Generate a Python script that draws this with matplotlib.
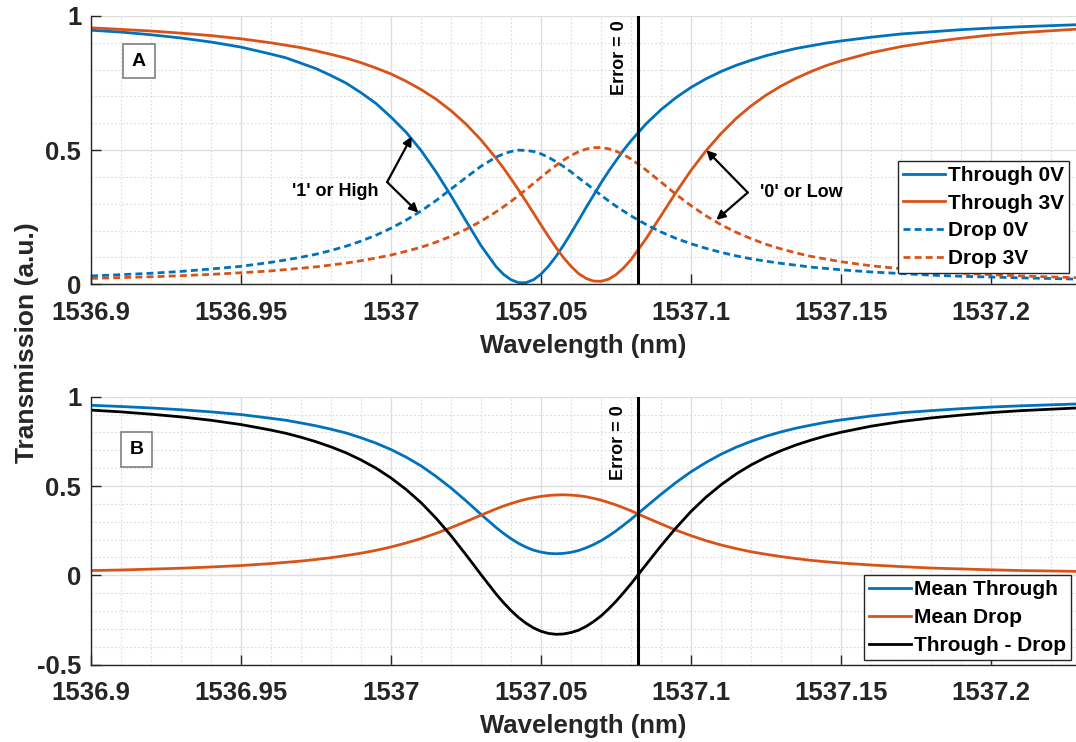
import matplotlib
matplotlib.use('Agg')
import matplotlib.pyplot as plt
from matplotlib.ticker import MultipleLocator

plt.rcParams['font.family'] = ['Liberation Sans', 'DejaVu Sans']
plt.rcParams['font.weight'] = 'bold'

# wavelength samples (nm)
wavelength = [1536.90, 1536.91, 1536.92, 1536.93, 1536.94, 1536.95, 1536.96, 1536.965, 1536.97, 1536.975,
              1536.98, 1536.985, 1536.99, 1536.995, 1537.00, 1537.005, 1537.01, 1537.015, 1537.02, 1537.025,
              1537.03, 1537.035, 1537.0375, 1537.04, 1537.0425, 1537.045, 1537.0475, 1537.05, 1537.0525, 1537.055,
              1537.0575, 1537.06, 1537.0625, 1537.065, 1537.0675, 1537.07, 1537.0725, 1537.075, 1537.0775, 1537.08,
              1537.085, 1537.09, 1537.095, 1537.10, 1537.105, 1537.11, 1537.115, 1537.12, 1537.125, 1537.13,
              1537.135, 1537.14, 1537.145, 1537.15, 1537.16, 1537.17, 1537.18, 1537.19, 1537.20, 1537.21,
              1537.23]

# panel A
through_0v = [0.947, 0.940, 0.930, 0.918, 0.903, 0.884, 0.858, 0.844, 0.824, 0.804,
              0.778, 0.750, 0.714, 0.674, 0.623, 0.567, 0.499, 0.419, 0.330, 0.236,
              0.144, 0.066, 0.037, 0.017, 0.006, 0.006, 0.017, 0.038, 0.068, 0.104,
              0.146, 0.191, 0.238, 0.286, 0.332, 0.378, 0.421, 0.461, 0.500, 0.535,
              0.598, 0.651, 0.696, 0.734, 0.766, 0.793, 0.816, 0.835, 0.852, 0.866,
              0.879, 0.889, 0.899, 0.907, 0.921, 0.933, 0.941, 0.949, 0.955, 0.960,
              0.968]
through_3v = [0.956, 0.950, 0.944, 0.936, 0.927, 0.915, 0.900, 0.891, 0.882, 0.870,
              0.857, 0.843, 0.826, 0.806, 0.784, 0.757, 0.726, 0.690, 0.647, 0.597,
              0.538, 0.470, 0.433, 0.393, 0.352, 0.309, 0.265, 0.221, 0.178, 0.137,
              0.099, 0.067, 0.040, 0.022, 0.012, 0.011, 0.019, 0.036, 0.061, 0.092,
              0.170, 0.256, 0.343, 0.425, 0.498, 0.562, 0.618, 0.665, 0.705, 0.739,
              0.768, 0.793, 0.815, 0.833, 0.863, 0.886, 0.903, 0.917, 0.929, 0.938,
              0.952]
drop_0v = [0.031, 0.036, 0.041, 0.048, 0.057, 0.067, 0.082, 0.091, 0.101, 0.112,
           0.126, 0.142, 0.161, 0.183, 0.209, 0.239, 0.273, 0.312, 0.355, 0.398,
           0.440, 0.474, 0.486, 0.495, 0.500, 0.499, 0.495, 0.486, 0.473, 0.457,
           0.439, 0.419, 0.397, 0.376, 0.354, 0.332, 0.311, 0.291, 0.273, 0.255,
           0.223, 0.195, 0.171, 0.151, 0.134, 0.119, 0.106, 0.095, 0.086, 0.078,
           0.071, 0.064, 0.059, 0.054, 0.046, 0.040, 0.034, 0.030, 0.027, 0.024,
           0.019]
drop_3v = [0.022, 0.025, 0.028, 0.032, 0.037, 0.043, 0.050, 0.055, 0.060, 0.065,
           0.072, 0.079, 0.088, 0.098, 0.109, 0.123, 0.138, 0.157, 0.179, 0.205,
           0.235, 0.270, 0.289, 0.309, 0.331, 0.353, 0.376, 0.399, 0.422, 0.443,
           0.463, 0.480, 0.494, 0.504, 0.509, 0.510, 0.505, 0.496, 0.483, 0.467,
           0.426, 0.381, 0.335, 0.293, 0.255, 0.222, 0.194, 0.170, 0.149, 0.132,
           0.117, 0.104, 0.094, 0.084, 0.069, 0.058, 0.049, 0.042, 0.036, 0.031,
           0.024]

# panel B
mean_through = [0.952, 0.945, 0.937, 0.927, 0.915, 0.900, 0.879, 0.868, 0.853, 0.837,
                0.818, 0.797, 0.770, 0.740, 0.704, 0.662, 0.613, 0.554, 0.489, 0.417,
                0.341, 0.268, 0.235, 0.205, 0.179, 0.158, 0.141, 0.130, 0.123, 0.121,
                0.123, 0.129, 0.139, 0.154, 0.172, 0.194, 0.220, 0.249, 0.281, 0.314,
                0.384, 0.454, 0.520, 0.580, 0.632, 0.678, 0.717, 0.750, 0.779, 0.803,
                0.824, 0.841, 0.857, 0.870, 0.892, 0.910, 0.922, 0.933, 0.942, 0.949,
                0.960]
mean_drop = [0.027, 0.030, 0.035, 0.040, 0.047, 0.055, 0.066, 0.073, 0.080, 0.089,
             0.099, 0.111, 0.124, 0.140, 0.159, 0.181, 0.206, 0.235, 0.267, 0.301,
             0.337, 0.372, 0.388, 0.402, 0.415, 0.426, 0.435, 0.442, 0.447, 0.450,
             0.451, 0.449, 0.446, 0.440, 0.431, 0.421, 0.408, 0.394, 0.378, 0.361,
             0.324, 0.288, 0.253, 0.222, 0.194, 0.170, 0.150, 0.132, 0.118, 0.105,
             0.094, 0.084, 0.076, 0.069, 0.058, 0.049, 0.041, 0.036, 0.031, 0.027,
             0.022]
through_minus_drop = [0.925, 0.915, 0.902, 0.887, 0.868, 0.844, 0.813, 0.795, 0.773, 0.748,
                      0.719, 0.686, 0.646, 0.600, 0.545, 0.481, 0.407, 0.320, 0.222, 0.115,
                      0.004, -0.104, -0.153, -0.197, -0.236, -0.268, -0.294, -0.313, -0.325, -0.330,
                      -0.328, -0.320, -0.307, -0.286, -0.259, -0.227, -0.188, -0.145, -0.097, -0.047,
                      0.060, 0.166, 0.266, 0.358, 0.438, 0.507, 0.567, 0.618, 0.661, 0.698,
                      0.730, 0.757, 0.781, 0.801, 0.835, 0.861, 0.881, 0.897, 0.911, 0.922,
                      0.938]

error_zero = 1537.0824
xticks = [1536.9, 1536.95, 1537.0, 1537.05, 1537.1, 1537.15, 1537.2]
xticklabels = ['1536.9', '1536.95', '1537', '1537.05', '1537.1', '1537.15', '1537.2']

blue = '#0072BD'
orange = '#D95319'
dark = '#262626'


def style_axes(ax, ylim, yticks, yticklabels):
    ax.set_xlim(1536.9, 1537.2283)
    ax.set_ylim(*ylim)
    ax.set_xticks(xticks)
    ax.set_xticklabels(xticklabels)
    ax.set_yticks(yticks)
    ax.set_yticklabels(yticklabels)
    ax.xaxis.set_minor_locator(MultipleLocator(0.01))
    ax.yaxis.set_minor_locator(MultipleLocator(0.1))
    ax.set_axisbelow(True)
    ax.grid(which='major', color='#dedede', linewidth=1.0, linestyle='-')
    ax.grid(which='minor', color='#dadada', linewidth=0.8, linestyle=(0, (1.5, 2.0)))
    ax.tick_params(axis='x', which='major', pad=12)
    ax.tick_params(axis='y', which='major', pad=7)
    ax.tick_params(which='major', direction='in', length=7, width=1.0, color=dark,
                   labelsize=18.5, labelcolor=dark)
    ax.tick_params(which='minor', length=0)
    ax.spines['top'].set_visible(False)
    ax.spines['right'].set_visible(False)
    for s in ['left', 'bottom']:
        ax.spines[s].set_color(dark)
        ax.spines[s].set_linewidth(1.0)
    ax.set_xlabel('Wavelength (nm)', fontsize=18.5, fontweight='bold', color=dark, labelpad=6.5)


fig = plt.figure(figsize=(10.76, 7.42), dpi=100)
line_kw = dict(lw=2.0, solid_joinstyle='round', dash_joinstyle='round')

# ---- panel A ----
ax1 = fig.add_axes([0.08457, 0.61685, 0.91543, 0.3616])
ax1.plot(wavelength, through_0v, color=blue, label='Through 0V', **line_kw)
ax1.plot(wavelength, through_3v, color=orange, label='Through 3V', **line_kw)
ax1.plot(wavelength, drop_0v, color=blue, dashes=(2.5, 1.5), label='Drop 0V', **line_kw)
ax1.plot(wavelength, drop_3v, color=orange, dashes=(2.5, 1.5), label='Drop 3V', **line_kw)
ax1.axvline(error_zero, color='black', lw=2.2)
style_axes(ax1, (0, 1), [0, 0.5, 1], ['0', '0.5', '1'])
ax1.text(1537.0760, 0.985, 'Error = 0', rotation=90, ha='center', va='top',
         fontsize=13, fontweight='bold')
ax1.text(1536.916, 0.832, 'A', ha='center', va='center', fontsize=14, fontweight='bold',
         bbox=dict(boxstyle='square,pad=0.45', facecolor='white', edgecolor='#7f7f7f', lw=1.2))

arrow = dict(arrowstyle='-|>', color='black', lw=1.6, mutation_scale=13, shrinkA=0, shrinkB=0)
ax1.annotate('', xy=(1537.0069, 0.551), xytext=(1536.9987, 0.381), arrowprops=arrow)
ax1.annotate('', xy=(1537.0091, 0.267), xytext=(1536.9987, 0.381), arrowprops=arrow)
ax1.text(1536.9957, 0.346, "'1' or High", ha='right', va='center', fontsize=13, fontweight='bold')
ax1.annotate('', xy=(1537.1051, 0.500), xytext=(1537.1189, 0.342), arrowprops=arrow)
ax1.annotate('', xy=(1537.1084, 0.240), xytext=(1537.1189, 0.342), arrowprops=arrow)
ax1.text(1537.1230, 0.342, "'0' or Low", ha='left', va='center', fontsize=13, fontweight='bold')

leg1 = ax1.legend(loc='lower right', bbox_to_anchor=(0.9929, 0.041), borderaxespad=0,
                  fontsize=15, handlelength=2.0, handletextpad=0.15, labelspacing=0.42,
                  borderpad=0.25, fancybox=False, framealpha=1, edgecolor=dark)
leg1.get_frame().set_linewidth(1.0)

# ---- panel B ----
ax2 = fig.add_axes([0.08457, 0.10418, 0.91543, 0.36119])
ax2.plot(wavelength, mean_through, color=blue, label='Mean Through', **line_kw)
ax2.plot(wavelength, mean_drop, color=orange, label='Mean Drop', **line_kw)
ax2.plot(wavelength, through_minus_drop, color='black', label='Through - Drop', **line_kw)
ax2.axvline(error_zero, color='black', lw=2.2)
style_axes(ax2, (-0.5, 1), [-0.5, 0, 0.5, 1], ['-0.5', '0', '0.5', '1'])
ax2.text(1537.0757, 0.95, 'Error = 0', rotation=90, ha='center', va='top',
         fontsize=13, fontweight='bold')
ax2.text(1536.9151, 0.704, 'B', ha='center', va='center', fontsize=14, fontweight='bold',
         bbox=dict(boxstyle='square,pad=0.45', facecolor='white', edgecolor='#7f7f7f', lw=1.2))

leg2 = ax2.legend(loc='lower right', bbox_to_anchor=(0.9949, 0.0175), borderaxespad=0,
                  fontsize=15, handlelength=2.0, handletextpad=0.15, labelspacing=0.42,
                  borderpad=0.25, fancybox=False, framealpha=1, edgecolor=dark)
leg2.get_frame().set_linewidth(1.0)

fig.text(0.025, 0.5384, 'Transmission (a.u.)', rotation=90, ha='center', va='center',
         fontsize=19, fontweight='bold', color=dark)

fig.savefig('out.png', dpi=100)
